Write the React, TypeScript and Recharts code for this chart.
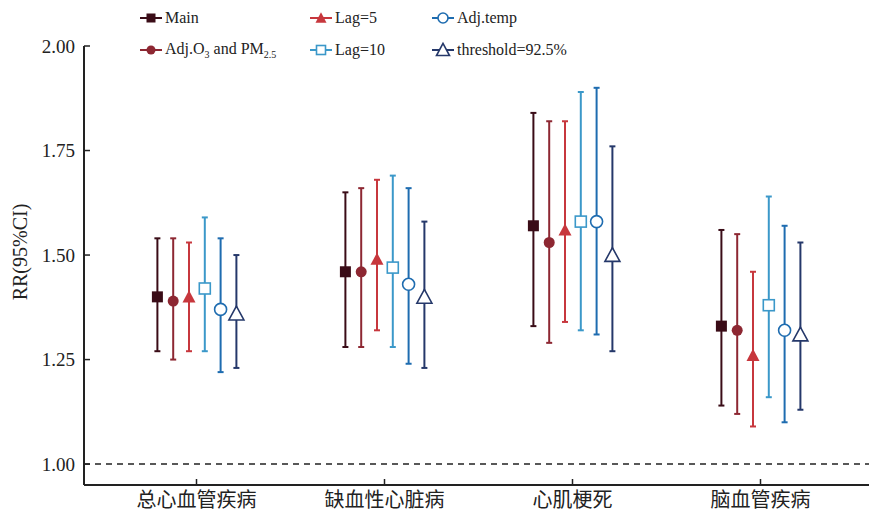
import { ComposedChart, Bar, XAxis, YAxis, ReferenceLine } from 'recharts'

const categories = ['总心血管疾病', '缺血性心脏病', '心肌梗死', '脑血管疾病']
const yTicks = [1.0, 1.25, 1.5, 1.75, 2.0]

// RR with lower / upper 95% CI, one array per model
const mainRR = [1.40, 1.46, 1.57, 1.33]
const mainLow = [1.27, 1.28, 1.33, 1.14]
const mainHigh = [1.54, 1.65, 1.84, 1.56]

const adjPollRR = [1.39, 1.46, 1.53, 1.32]
const adjPollLow = [1.25, 1.28, 1.29, 1.12]
const adjPollHigh = [1.54, 1.66, 1.82, 1.55]

const lag5RR = [1.40, 1.49, 1.56, 1.26]
const lag5Low = [1.27, 1.32, 1.34, 1.09]
const lag5High = [1.53, 1.68, 1.82, 1.46]

const lag10RR = [1.42, 1.47, 1.58, 1.38]
const lag10Low = [1.27, 1.28, 1.32, 1.16]
const lag10High = [1.59, 1.69, 1.89, 1.64]

const adjTempRR = [1.37, 1.43, 1.58, 1.32]
const adjTempLow = [1.22, 1.24, 1.31, 1.10]
const adjTempHigh = [1.54, 1.66, 1.90, 1.57]

const thresholdRR = [1.36, 1.40, 1.50, 1.31]
const thresholdLow = [1.23, 1.23, 1.27, 1.13]
const thresholdHigh = [1.50, 1.58, 1.76, 1.53]

type Kind = 'square' | 'circle' | 'triangle'

interface Series {
  key: string
  name: string
  color: string
  kind: Kind
  filled: boolean
  size: number
  rr: number[]
  low: number[]
  high: number[]
}

const series: Series[] = [
  { key: 'main', name: 'Main', color: '#3a0c17', kind: 'square', filled: true, size: 11, rr: mainRR, low: mainLow, high: mainHigh },
  { key: 'adjPoll', name: 'Adj.O3 and PM2.5', color: '#8d2732', kind: 'circle', filled: true, size: 11, rr: adjPollRR, low: adjPollLow, high: adjPollHigh },
  { key: 'lag5', name: 'Lag=5', color: '#c7373d', kind: 'triangle', filled: true, size: 13, rr: lag5RR, low: lag5Low, high: lag5High },
  { key: 'lag10', name: 'Lag=10', color: '#3b98c9', kind: 'square', filled: false, size: 11, rr: lag10RR, low: lag10Low, high: lag10High },
  { key: 'adjTemp', name: 'Adj.temp', color: '#1e6cb0', kind: 'circle', filled: false, size: 12, rr: adjTempRR, low: adjTempLow, high: adjTempHigh },
  { key: 'threshold', name: 'threshold=92.5%', color: '#25386a', kind: 'triangle', filled: false, size: 15, rr: thresholdRR, low: thresholdLow, high: thresholdHigh }
]

const data = categories.map((name, i) => {
  const row: Record<string, any> = { name }
  series.forEach((s) => {
    row[s.key] = [s.low[i], s.high[i]]
    row[s.key + 'RR'] = s.rr[i]
  })
  return row
})

const serif = '"Liberation Serif", "Times New Roman", serif'
const axisColor = '#222'

function Marker({ s, cx, cy }: { s: Series; cx: number; cy: number }) {
  const fill = s.filled ? s.color : '#fff'
  const sw = s.filled ? 0 : 1.6
  const h = s.size / 2
  if (s.kind === 'square') {
    return <rect x={cx - h} y={cy - h} width={s.size} height={s.size} fill={fill} stroke={s.color} strokeWidth={sw} />
  }
  if (s.kind === 'circle') {
    return <circle cx={cx} cy={cy} r={h} fill={fill} stroke={s.color} strokeWidth={sw} />
  }
  const th = s.size * 0.85
  const pts = `${cx},${cy - th / 2 - 1} ${cx - h},${cy + th / 2} ${cx + h},${cy + th / 2}`
  return <polygon points={pts} fill={fill} stroke={s.color} strokeWidth={sw} strokeLinejoin="miter" />
}

// draws a CI whisker with caps and the point estimate inside the bar's range
const whisker = (s: Series) => (props: any) => {
  const { x, y, width, height, payload } = props
  if (x == null || y == null) return <g />
  const top = Math.min(y, y + height)
  const bottom = Math.max(y, y + height)
  const [lo, hi] = payload[s.key]
  const rr = payload[s.key + 'RR']
  const cx = x + width / 2
  const cy = top + ((bottom - top) * (hi - rr)) / (hi - lo)
  return (
    <g>
      <line x1={cx} x2={cx} y1={top} y2={bottom} stroke={s.color} strokeWidth={2} />
      <line x1={cx - 3} x2={cx + 3} y1={top} y2={top} stroke={s.color} strokeWidth={2} />
      <line x1={cx - 3} x2={cx + 3} y1={bottom} y2={bottom} stroke={s.color} strokeWidth={2} />
      <Marker s={s} cx={cx} cy={cy} />
    </g>
  )
}

function LegendLabel({ name }: { name: string }) {
  if (name === 'Adj.O3 and PM2.5') {
    return (
      <span>
        Adj.O<sub style={{ fontSize: 10 }}>3</sub> and PM<sub style={{ fontSize: 10 }}>2.5</sub>
      </span>
    )
  }
  return <span>{name}</span>
}

const legendPos = [
  { left: 139, top: 18 },
  { left: 139, top: 50 },
  { left: 309, top: 18 },
  { left: 309, top: 50 },
  { left: 431, top: 18 },
  { left: 431, top: 50 }
]

function ChartLegend() {
  return (
    <>
      {series.map((s, i) => (
        <div
          key={s.key}
          style={{
            position: 'absolute',
            left: legendPos[i].left,
            top: legendPos[i].top - 11,
            height: 22,
            display: 'flex',
            alignItems: 'center',
            fontFamily: serif,
            fontSize: 16,
            color: '#222',
            whiteSpace: 'nowrap'
          }}
        >
          <svg width={24} height={22} style={{ marginRight: 2 }}>
            <line x1={1} x2={23} y1={11} y2={11} stroke={s.color} strokeWidth={2} />
            <Marker s={{ ...s, size: s.size - 2 }} cx={12} cy={11} />
          </svg>
          <LegendLabel name={s.name} />
        </div>
      ))}
    </>
  )
}

export default function App() {
  return (
    <div style={{ position: 'absolute', left: 0, top: 0, width: 869, height: 513, background: '#fff' }}>
      <ComposedChart
        width={869}
        height={513}
        data={data}
        margin={{ top: 46, right: 0, bottom: 0, left: 0 }}
        barGap={0}
        barSize={15.8}
      >
        <XAxis
          dataKey="name"
          height={28}
          padding={{ left: 18.5, right: 14.5 }}
          tickSize={-6}
          tickMargin={14}
          axisLine={{ stroke: axisColor, strokeWidth: 2 }}
          tickLine={{ stroke: axisColor, strokeWidth: 1.5 }}
          tick={{ fontSize: 20, fill: '#222', fontFamily: '"Noto Sans CJK SC", sans-serif' }}
        />
        <YAxis
          type="number"
          width={84}
          domain={[0.95, 2]}
          ticks={yTicks}
          allowDataOverflow
          tickFormatter={(v: number) => v.toFixed(2)}
          tickSize={-6}
          tickMargin={15}
          axisLine={{ stroke: axisColor, strokeWidth: 2 }}
          tickLine={{ stroke: axisColor, strokeWidth: 1.5 }}
          tick={{ fontSize: 19, fill: '#222', fontFamily: serif }}
          label={{
            content: () => (
              <text
                x={20}
                y={252}
                transform="rotate(-90 20 252)"
                textAnchor="middle"
                dominantBaseline="central"
                fontSize={20}
                fontFamily={serif}
                fill="#222"
              >
                RR(95%CI)
              </text>
            )
          }}
        />
        <ReferenceLine y={1} stroke="#222" strokeWidth={1.5} strokeDasharray="6 5" />
        {series.map((s) => (
          <Bar
            key={s.key}
            dataKey={s.key}
            name={s.name}
            fill="none"
            shape={whisker(s)}
            isAnimationActive={false}
          />
        ))}
      </ComposedChart>
      <ChartLegend />
    </div>
  )
}
